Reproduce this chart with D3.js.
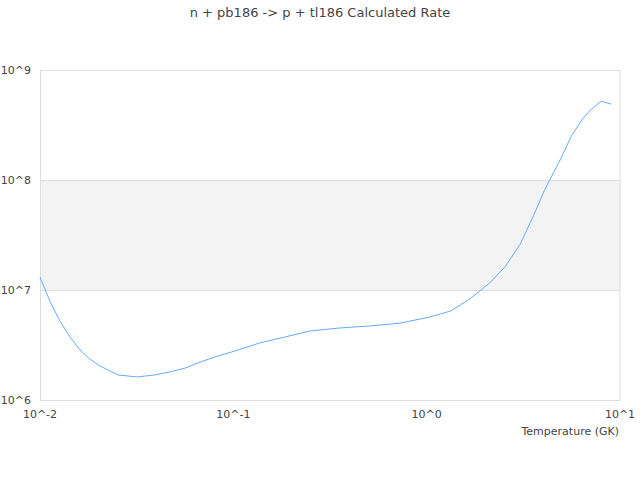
<!DOCTYPE html>
<html><head><meta charset="utf-8">
<script src="https://cdn.jsdelivr.net/npm/d3@7"></script>
<style>body{margin:0;background:#fff;font-family:"DejaVu Sans",sans-serif;}</style>
</head><body><svg id="c" width="640" height="480"></svg>
<script>
const title = "n + pb186 -> p + tl186 Calculated Rate";
const xLabel = "Temperature (GK)";
const temperature = [0.01,0.0113,0.0127,0.0143,0.0161,0.0181,0.0204,0.023,0.0253,0.0318,0.0393,0.047,0.0563,0.0671,0.0802,0.1019,0.137,0.185,0.249,0.357,0.51,0.73,1.04,1.33,1.67,2.12,2.54,3.05,3.62,4.07,4.9,5.6,6.4,7.1,8.0,9.0];
const rate = [1.31e7,7.78e6,5.2e6,3.74e6,2.85e6,2.36e6,2.04e6,1.84e6,1.69e6,1.62e6,1.69e6,1.80e6,1.95e6,2.21e6,2.46e6,2.79e6,3.30e6,3.74e6,4.24e6,4.52e6,4.71e6,5.0e6,5.69e6,6.44e6,8.28e6,1.16e7,1.62e7,2.62e7,5.0e7,8.1e7,1.52e8,2.5e8,3.59e8,4.4e8,5.2e8,4.9e8];
const xTicks = [0.01,0.1,1,10];
const xTickLabels = ["10^-2","10^-1","10^0","10^1"];
const yTicks = [1e6,1e7,1e8,1e9];
const yTickLabels = ["10^6","10^7","10^8","10^9"];

const svg = d3.select("#c");
const L=40,R=620,T=70,B=400;
const x = d3.scaleLog().domain([0.01,10]).range([L,R]);
const y = d3.scaleLog().domain([1e6,1e9]).range([B,T]);

// band
svg.append("rect").attr("x",L).attr("width",R-L)
  .attr("y",y(1e8)).attr("height",y(1e7)-y(1e8)).attr("fill","#f3f3f3");
// gridlines
svg.selectAll("line.g").data(yTicks).enter().append("line")
  .attr("x1",L).attr("x2",R).attr("y1",d=>y(d)+0.5).attr("y2",d=>y(d)+0.5)
  .attr("stroke","#dddddd");
svg.append("rect").attr("x",L+0.5).attr("y",T+0.5).attr("width",R-L-1+0.5).attr("height",B-T)
  .attr("fill","none").attr("stroke","#dddddd");

const line = d3.line().x((d,i)=>x(temperature[i])).y(d=>y(d));
svg.append("path").datum(rate).attr("d",line).attr("fill","none")
  .attr("stroke","#66aaff").attr("stroke-width",1);

svg.selectAll("text.yt").data(yTicks).enter().append("text")
  .attr("x",31).attr("y",d=>y(d)+4).attr("text-anchor","end")
  .attr("font-size",11).attr("fill","#444").text((d,i)=>yTickLabels[i]);
svg.selectAll("text.xt").data(xTicks).enter().append("text")
  .attr("x",d=>x(d)).attr("y",418).attr("text-anchor","middle")
  .attr("font-size",11).attr("fill","#444").text((d,i)=>xTickLabels[i]);
svg.append("text").attr("x",619).attr("y",435).attr("text-anchor","end")
  .attr("font-size",11).attr("fill","#444").text(xLabel);
svg.append("text").attr("x",320).attr("y",17).attr("text-anchor","middle")
  .attr("font-size",13).attr("fill","#444").text(title);
</script></body></html>
